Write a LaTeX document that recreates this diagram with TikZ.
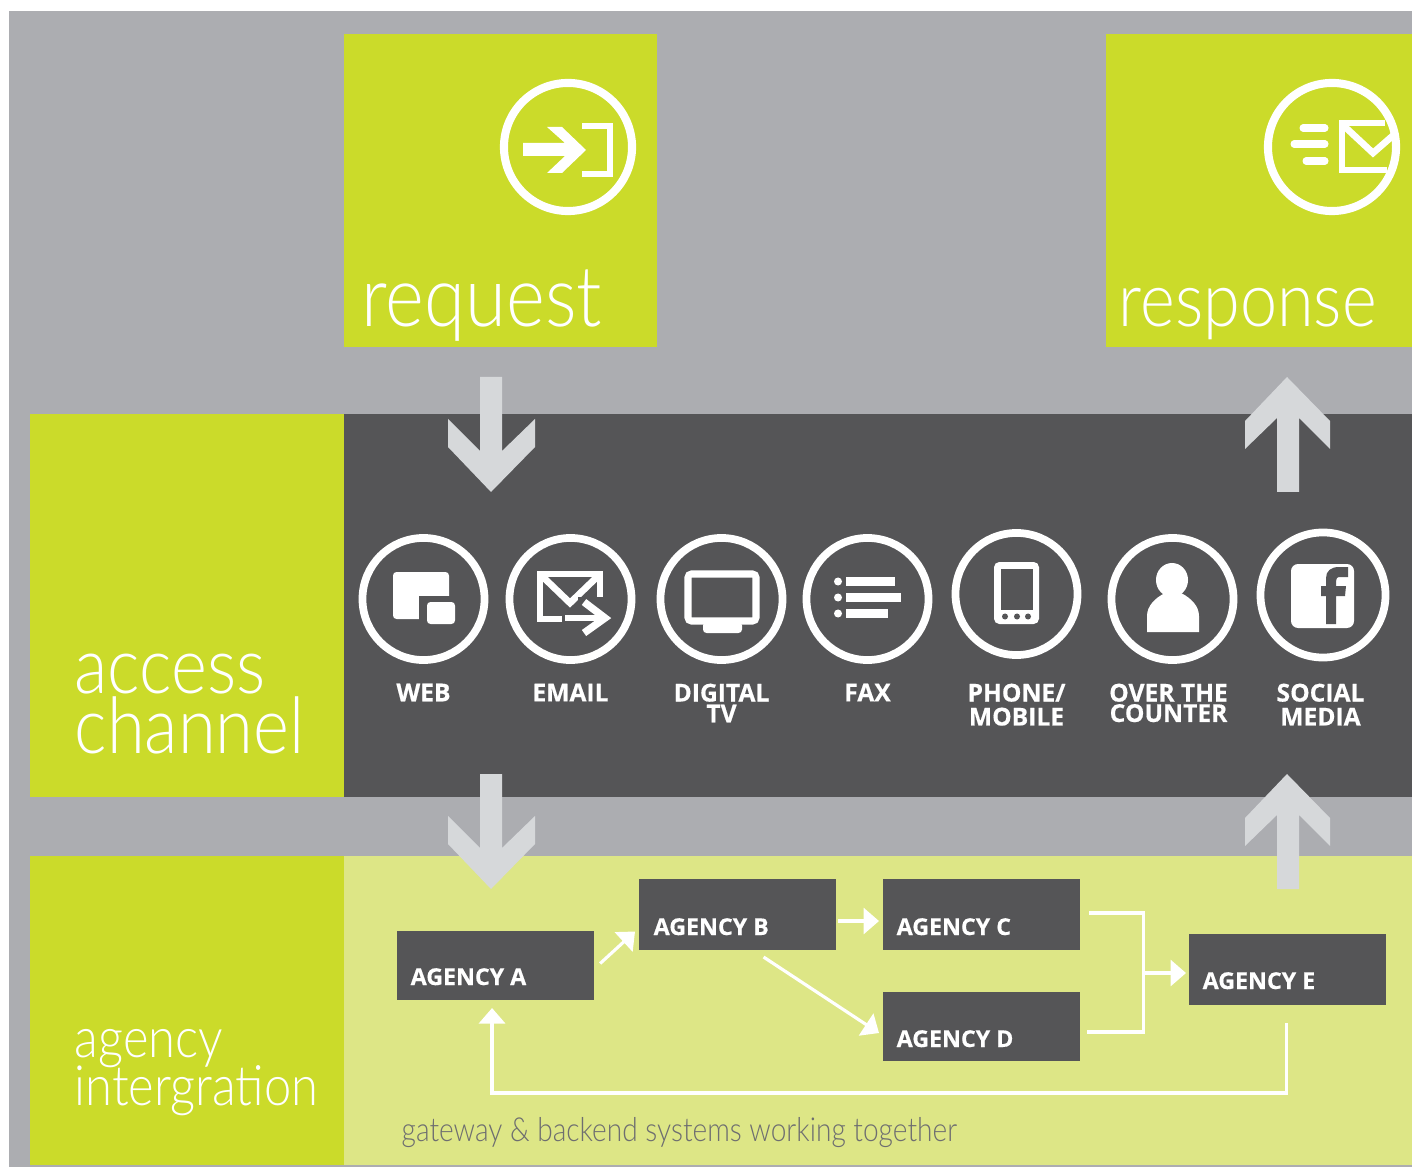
\documentclass[tikz,border=0pt]{standalone}
\usepackage{fontspec}
\usetikzlibrary{arrows.meta,calc}
\newfontfamily\titlefont{Lato Light}[FakeStretch=0.88]
\newfontfamily\captionfont{Lato Light}[FakeStretch=0.85]
\newfontfamily\chanfont{Open Sans}[BoldFeatures={FakeBold=0.5}]
\definecolor{panelgrey}{HTML}{ACADB1}
\definecolor{lime}{HTML}{CBDB2A}
\definecolor{palelime}{HTML}{DDE686}
\definecolor{slate}{HTML}{555557}
\definecolor{bigarrow}{HTML}{D6D8DA}
\tikzset{
  panel/.style={anchor=north west,inner sep=0pt,outer sep=0pt},
  ring/.style={circle,draw=white,line width=2.2pt,inner sep=0pt,outer sep=0pt,minimum size=1.22cm},
  bigring/.style={circle,draw=white,line width=2.3pt,inner sep=0pt,outer sep=0pt,minimum size=1.28cm},
  chanlabel/.style={anchor=north,inner sep=0pt,align=center,text=white,font=\chanfont\bfseries\fontsize{7}{#1}\selectfont},
  agencybox/.style={anchor=north west,fill=slate,inner sep=0pt,outer sep=0pt,minimum width=1.97cm},
  agencytext/.style={anchor=base west,inner sep=0pt,text=white,font=\chanfont\bfseries\fontsize{6.6}{8}\selectfont},
  title/.style={anchor=base west,inner sep=0pt,text=white,font=\titlefont\fontsize{#1}{#1}\selectfont},
  flow/.style={draw=white,line width=0.9pt},
  flowtip/.style={flow,-{Triangle[width=7.4pt,length=4.4pt]}},
  iconline/.style={draw=white,line width=#1}
}
\begin{document}
\begin{tikzpicture}[x=0.01cm,y=-0.01cm]
\useasboundingbox (0,0) rectangle (1412,1167);
\fill[panelgrey] (9,11) rectangle (1412,1167);

\node[panel,fill=lime,minimum width=3.13cm,minimum height=3.13cm] (request) at (344,34) {};
\node[panel,fill=lime,minimum width=3.06cm,minimum height=3.13cm] (response) at (1106,34) {};
\node[panel,fill=lime,minimum width=3.14cm,minimum height=3.83cm] (access) at (30,414) {};
\node[panel,fill=slate,minimum width=10.68cm,minimum height=3.83cm] (channels) at (344,414) {};
\node[panel,fill=lime,minimum width=3.14cm,minimum height=3.09cm] (integration) at (30,856) {};
\node[panel,fill=palelime,minimum width=10.68cm,minimum height=3.09cm] (backend) at (344,856) {};

\node[title=24] (requestText) at (361,327) {request};
\node[title=21.5] (responseText) at (1118,327) {response};
\node[title=22.2] (accessText) at (74,693) {access};
\node[title=22.2] (channelText) at (74,753) {channel};
\node[title=15.8] (agencyText) at (74,1057) {agency};
\node[title=15.8] (intergrationText) at (74,1105) {intergration};
\node[anchor=base west,inner sep=0pt,text=slate!85,font=\captionfont\fontsize{9.4}{10}\selectfont] (gateway) at (401,1141) {gateway \& backend systems working together};

\foreach \y in {0,397} {
  \fill[bigarrow,shift={(0,\y)}] (480,377) -- (502,377) -- (502,451) -- (535,419) -- (535,447) -- (491,492) -- (448,447) -- (448,419) -- (480,451) -- cycle;
  \fill[bigarrow,shift={(0,\y)}] (1277,492) -- (1299,492) -- (1299,418) -- (1330,449) -- (1330,421) -- (1287,377) -- (1245,421) -- (1245,449) -- (1277,418) -- cycle;
}

\node[bigring] (requestRing) at (568,147) {};
\fill[white] (547,127) -- (562,127) -- (586,150) -- (562,173) -- (547,173) -- (565,156) -- (523,156) -- (523,143) -- (565,143) -- cycle;
\draw[iconline=1.9pt] (582,126) -- (610,126) -- (610,174) -- (582,174);

\node[bigring] (responseRing) at (1332,147) {};
\draw[iconline=2pt,line cap=round] (1303,128) -- (1325,128);
\draw[iconline=2pt,line cap=round] (1294,144) -- (1325,144);
\draw[iconline=2pt,line cap=round] (1306,161) -- (1325,161);
\draw[iconline=1.9pt] (1385,123) -- (1342,123) -- (1342,170) -- (1387,170);
\draw[iconline=1.9pt] (1344,126) -- (1373,153) -- (1397,132);

\node[ring] (web) at (423.5,599) {};
\node[ring] (email) at (570.5,599) {};
\node[ring] (tv) at (721.5,599) {};
\node[ring] (fax) at (867.5,599) {};
\node[ring] (phone) at (1016.5,594) {};
\node[ring] (counter) at (1172.5,599) {};
\node[ring,minimum size=1.25cm] (social) at (1323,595) {};

\fill[white,rounded corners=1pt] (393,572) rectangle (449,619);
\fill[slate] (419,596) rectangle (460,630);
\fill[white,rounded corners=1pt] (427,602) rectangle (455,624);

\draw[iconline=1.9pt] (597,603) -- (600,603) -- (600,574) -- (540,574) -- (540,619) -- (562,619);
\draw[iconline=1.9pt] (543,577) -- (570,603) -- (597,577);
\fill[slate] (578,597) rectangle (612,612);
\draw[iconline=1.9pt] (565,618) -- (604,618);
\draw[iconline=2.1pt] (584,602) -- (605,618) -- (584,633);

\draw[iconline=2pt,rounded corners=1pt] (688,574) rectangle (756,621);
\fill[white,rounded corners=1pt] (703,622) rectangle (742,633);

\fill[white] (846,577) rectangle (895,586);
\fill[white] (846,593) rectangle (901,602);
\fill[white] (846,609) rectangle (888,618);
\foreach \y in {581.5,597.5,613.5} \fill[white] (838,\y) circle (0.04cm);

\fill[white,rounded corners=1.5pt] (994,562) rectangle (1039,624);
\fill[slate] (1001,569) rectangle (1033,610);
\foreach \x in {1005,1017,1028} \fill[slate] (\x,616.5) circle (0.03cm);

\fill[white] (1172,580) ellipse (0.16cm and 0.17cm);
\fill[white] (1147,632) -- (1147,616) .. controls (1147,606) and (1155,598) .. (1165,593) -- (1181,593) .. controls (1191,598) and (1199,606) .. (1199,616) -- (1199,632) -- cycle;

\fill[white,rounded corners=2pt] (1291,564) rectangle (1354,628);
\fill[slate] (1326,624) -- (1326,596) -- (1321,596) -- (1321,586) -- (1326,586) -- (1326,578) .. controls (1326,571) and (1331,567) .. (1339,567) -- (1348,567) -- (1348,577) -- (1341,577) .. controls (1337,577) and (1336,578) .. (1336,581) -- (1336,586) -- (1346,586) -- (1345,596) -- (1336,596) -- (1336,624) -- cycle;

\node[chanlabel=7] (webLabel) at (423.5,683) {WEB};
\node[chanlabel=7] (emailLabel) at (570.5,683) {EMAIL};
\node[chanlabel=5.9] (tvLabel) at (721.5,683) {DIGITAL\\TV};
\node[chanlabel=7] (faxLabel) at (867.5,683) {FAX};
\node[chanlabel=6.8] (phoneLabel) at (1016.5,683) {PHONE/\\MOBILE};
\node[chanlabel=5.8] (counterLabel) at (1168.5,683) {OVER THE\\COUNTER};
\node[chanlabel=6.8] (socialLabel) at (1320.5,683) {SOCIAL\\MEDIA};

\node[agencybox,minimum height=0.69cm] (agencyA) at (397,931) {};
\node[agencybox,minimum height=0.71cm] (agencyB) at (639,879) {};
\node[agencybox,minimum height=0.71cm] (agencyC) at (883,879) {};
\node[agencybox,minimum height=0.69cm] (agencyD) at (883,992) {};
\node[agencybox,minimum height=0.71cm] (agencyE) at (1189,934) {};
\node[agencytext] (agencyAText) at (410,985) {AGENCY A};
\node[agencytext] (agencyBText) at (653,935) {AGENCY B};
\node[agencytext] (agencyCText) at (896,935) {AGENCY C};
\node[agencytext] (agencyDText) at (896,1047) {AGENCY D};
\node[agencytext] (agencyEText) at (1202,989) {AGENCY E};

\draw[flowtip] ($(agencyA.east)+(6,-2)$) -- ($(agencyB.west)+(-4,17)$);
\draw[flowtip] ($(agencyB.east)+(2,6.5)$) -- ($(agencyC.west)+(-4,6.5)$);
\draw[flowtip] ($(agencyB.south)+(26,7)$) -- ($(agencyD.west)+(-4,6.5)$);
\draw[flow] ($(agencyC.east)+(9,-1.5)$) -- ($(agencyC.east)+(63,-1.5)$) |- ($(agencyD.east)+(7,5.5)$);
\draw[flowtip] ($(agencyC.east)+(63,58.5)$) -- ($(agencyE.west)+(-3,3.5)$);
\draw[flowtip] ($(agencyE.south)+(-1,18)$) -- ($(agencyE.south)+(-1,88)$) -| ($(agencyA.south)+(-3.5,8)$);
\end{tikzpicture}
\end{document}
